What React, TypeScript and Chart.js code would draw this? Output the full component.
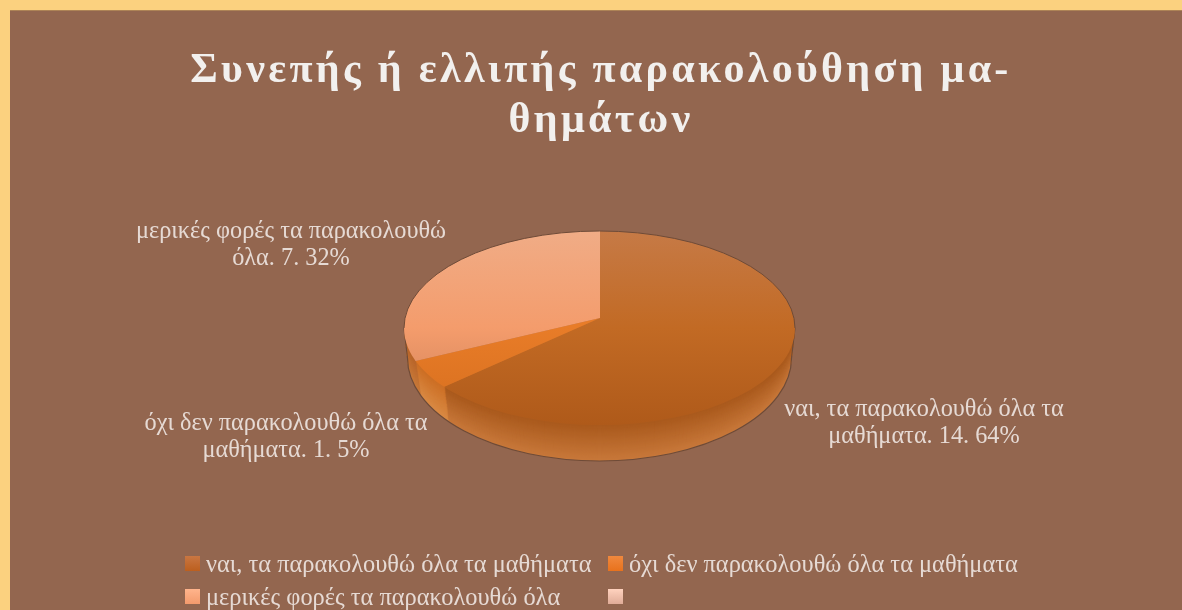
import React, { useEffect, useRef } from "react";
import { Chart, registerables } from "chart.js";

Chart.register(...registerables);

const titleLines = ["Συνεπής ή ελλιπής παρακολούθηση μα-", "θημάτων"];
const categories = [
  "ναι, τα παρακολουθώ όλα τα μαθήματα",
  "όχι δεν παρακολουθώ όλα τα μαθήματα",
  "μερικές φορές τα παρακολουθώ όλα",
  "",
];
const values = [14, 1, 7, 0];
const baseColors = ["#BC641F", "#E67A26", "#F39B6C", "#F7C0A8"];
const topStops = [
  ["#C67A46", "#C26A24", "#AF5A1A"],
  ["#E47C2C", "#E87C28", "#D66E1E"],
  ["#F0AC86", "#F49C6C", "#C97E56"],
  ["#F7C0A8", "#F7C0A8", "#F7C0A8"],
];
const sideStops = [
  ["#A9591C", "#C8783A"],
  ["#CC6E24", "#D98A44"],
  ["#B8652A", "#C97A3A"],
  ["#C8A090", "#C8A090"],
];
const swatchStops = [
  ["#C97642", "#BC5F1E"],
  ["#F0883E", "#E8721C"],
  ["#FFB48C", "#F39A6C"],
  ["#FFD2BE", "#E0AC98"],
];
const dataLabelLines = [
  ["ναι, τα παρακολουθώ όλα τα", "μαθήματα. 14. 64%"],
  ["όχι δεν παρακολουθώ όλα τα", "μαθήματα. 1. 5%"],
  ["μερικές φορές τα παρακολουθώ", "όλα. 7. 32%"],
];

const TEXT = "#E6DAD4";
const FONT = '"Liberation Serif", "Times New Roman", serif';
const APEX = { x: 600, y: 318 };
const RIM = { x: 599.5, y: 328, rx: 195.5, ry: 97 };
const DEPTH = 36;
const SQUASH = 0.51;
const LABEL_POS = [
  { x: 924, y: 410 },
  { x: 286, y: 424 },
  { x: 291, y: 232 },
];
const LEGEND_POS = [
  { x: 185, y: 556 },
  { x: 608, y: 556 },
  { x: 185, y: 589 },
  { x: 608, y: 589 },
];

const rimAt = (off: number) => ({
  cy: RIM.y + off * 0.833,
  rx: RIM.rx - off * 0.097,
  ry: RIM.ry + off * 0.167,
});

const pie3d = {
  id: "pie3d",
  beforeDraw(chart: any) {
    const t = chart.titleBlock;
    if (t && !t.__spaced) {
      const orig = t.draw.bind(t);
      t.draw = () => {
        const c = chart.ctx;
        c.save();
        (c as any).letterSpacing = "3.3px";
        orig();
        c.restore();
      };
      t.__spaced = true;
    }
  },
  beforeDatasetDraw(chart: any, args: any) {
    const ctx = chart.ctx as CanvasRenderingContext2D;
    const arcs = args.meta.data as any[];
    const drawArcs = (off: number, colorFor: (i: number, el: any) => any) => {
      const r = rimAt(off);
      ctx.save();
      ctx.beginPath();
      ctx.ellipse(RIM.x, r.cy, r.rx, r.ry, 0, 0, Math.PI * 2);
      ctx.clip();
      arcs.forEach((el, i) => {
        const saved = el.options;
        ctx.save();
        ctx.translate(APEX.x, APEX.y + off);
        ctx.scale(1, SQUASH);
        ctx.translate(-el.x, -el.y);
        el.options = { ...saved, backgroundColor: colorFor(i, el), borderWidth: 0 };
        el.draw(ctx);
        el.options = saved;
        ctx.restore();
      });
      ctx.restore();
    };
    const mix = (a: string, b: string, t: number) => {
      const p = (s: string, k: number) => parseInt(s.slice(k, k + 2), 16);
      const m = (k: number) => Math.round(p(a, k) + (p(b, k) - p(a, k)) * t);
      return `rgb(${m(1)},${m(3)},${m(5)})`;
    };
    // side wall
    for (let d = DEPTH; d >= 1; d--) {
      drawArcs(d, (i) => mix(sideStops[i][0], sideStops[i][1], d / DEPTH));
    }
    // outline of the lower edge
    const low = rimAt(DEPTH);
    ctx.save();
    ctx.strokeStyle = "#6E4B38";
    ctx.lineWidth = 1.2;
    ctx.beginPath();
    ctx.ellipse(RIM.x, low.cy, low.rx, low.ry, 0, 0, Math.PI);
    ctx.lineTo(RIM.x - RIM.rx, RIM.y);
    ctx.moveTo(RIM.x + low.rx, low.cy);
    ctx.lineTo(RIM.x + RIM.rx, RIM.y);
    ctx.stroke();
    ctx.restore();
    // top face
    drawArcs(0, (i, el) => {
      const top = el.y + (RIM.y - RIM.ry - APEX.y) / SQUASH;
      const bottom = el.y + (RIM.y + RIM.ry - APEX.y) / SQUASH;
      const g = ctx.createLinearGradient(0, top, 0, bottom);
      g.addColorStop(0, topStops[i][0]);
      g.addColorStop(0.5, topStops[i][1]);
      g.addColorStop(1, topStops[i][2]);
      return g;
    });
    ctx.save();
    ctx.strokeStyle = "#6E4B38";
    ctx.lineWidth = 1;
    ctx.beginPath();
    ctx.ellipse(RIM.x, RIM.y, RIM.rx, RIM.ry, 0, Math.PI, Math.PI * 2);
    ctx.stroke();
    ctx.restore();
    return false;
  },
  afterDraw(chart: any) {
    const ctx = chart.ctx as CanvasRenderingContext2D;
    ctx.save();
    ctx.fillStyle = TEXT;
    ctx.font = `24.3px ${FONT}`;
    ctx.textAlign = "center";
    ctx.textBaseline = "middle";
    dataLabelLines.forEach((lines, i) => {
      lines.forEach((line, j) => {
        ctx.fillText(line, LABEL_POS[i].x, LABEL_POS[i].y + j * 27);
      });
    });
    ctx.font = `24.4px ${FONT}`;
    ctx.textAlign = "left";
    categories.forEach((name, i) => {
      const p = LEGEND_POS[i];
      const g = ctx.createLinearGradient(0, p.y, 0, p.y + 15);
      g.addColorStop(0, swatchStops[i][0]);
      g.addColorStop(1, swatchStops[i][1]);
      ctx.fillStyle = g;
      ctx.fillRect(p.x, p.y, 15, 15);
      ctx.fillStyle = TEXT;
      ctx.fillText(name, p.x + 21, p.y + 10);
    });
    ctx.restore();
  },
};

export default function App() {
  const ref = useRef<HTMLCanvasElement | null>(null);
  useEffect(() => {
    if (!ref.current) return;
    const chart = new Chart(ref.current, {
      type: "pie",
      data: {
        labels: categories,
        datasets: [{ data: values, backgroundColor: baseColors, borderWidth: 0, radius: 260 } as any],
      },
      options: {
        responsive: false,
        animation: false,
        layout: { padding: 0 },
        plugins: {
          legend: { display: false },
          tooltip: { enabled: false },
          title: {
            display: true,
            text: titleLines,
            color: "#F2F0EE",
            font: { family: FONT, size: 42, weight: "bold", lineHeight: 1.19 },
            padding: { top: 46, bottom: 10 },
          },
        },
      },
      plugins: [pie3d as any],
    });
    return () => chart.destroy();
  }, []);
  return (
    <div
      style={{
        position: "absolute",
        left: 0,
        top: 0,
        width: 1182,
        height: 610,
        boxSizing: "border-box",
        overflow: "hidden",
        background: "#93664F",
        borderTop: "10px solid #FBD17F",
        borderLeft: "10px solid #FBD17F",
        boxShadow: "inset 0 1px 0 #AD8356",
      }}
    >
      <canvas
        ref={ref}
        width={1202}
        height={610}
        style={{ position: "absolute", left: -10, top: -10, width: 1202, height: 610 }}
      />
    </div>
  );
}
